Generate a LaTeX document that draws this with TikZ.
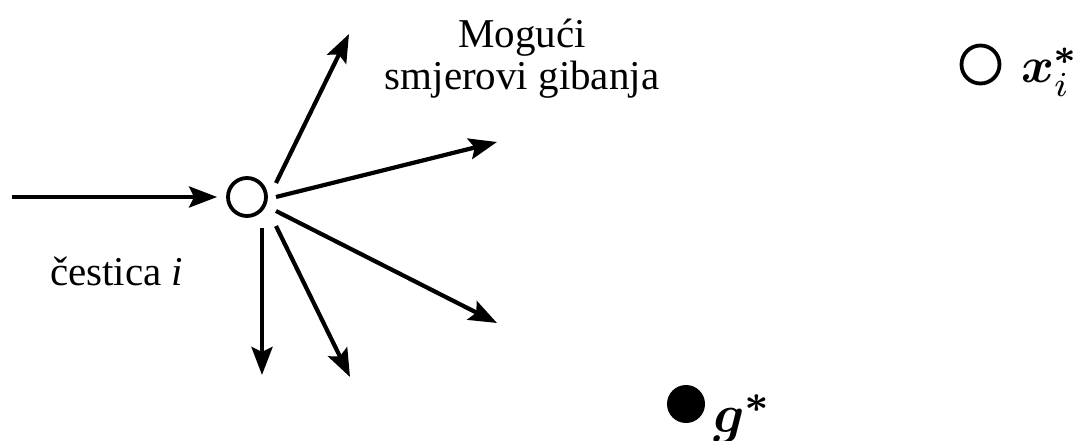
\documentclass[tikz,border=0pt]{standalone}
\usepackage{amsmath}
\usepackage{fontspec}
\setmainfont{Liberation Serif}
\usetikzlibrary{arrows.meta}
\tikzset{
  arr/.style={line width=4.2pt, -{Stealth[length=28pt,width=21pt,inset=5pt]}},
  ring/.style={circle, draw, line width=3.8pt, minimum size=38pt, inner sep=0pt},
  dot/.style={circle, fill, minimum size=38pt, inner sep=0pt},
  lbl/.style={inner sep=0pt, font=\fontsize{41}{42}\selectfont},
  mthx/.style={inner sep=0pt, font=\normalsize, scale=5},
  mthg/.style={inner sep=0pt, font=\normalsize, scale=5.4},
}
\begin{document}
\begin{tikzpicture}[x=1pt,y=-1pt]
\useasboundingbox (0,0) rectangle (1077,441);
% particle
\node[ring] (p) at (247,197) {};
\coordinate (in) at (12,197);
\draw[arr, shorten >=9pt] (in) -- (p.west);
% outgoing directions
\coordinate (s1) at (276,183); \coordinate (e1) at (349,34);
\coordinate (s2) at (276,197); \coordinate (e2) at (497,142);
\coordinate (s3) at (276,211); \coordinate (e3) at (497,323);
\coordinate (s4) at (276,226); \coordinate (e4) at (350,377);
\coordinate (s5) at (262,228); \coordinate (e5) at (262,375);
\draw[arr] (s1) -- (e1);
\draw[arr] (s2) -- (e2);
\draw[arr] (s3) -- (e3);
\draw[arr] (s4) -- (e4);
\draw[arr] (s5) -- (e5);
% labels
\node[lbl, anchor=base] (t1) at (522,48) {Mogući};
\node[lbl, anchor=base] (t2) at (522,90) {smjerovi gibanja};
\node[lbl, anchor=base west] (t3) at (50,285) {čestica \textit{i}};
% personal best
\node[ring] (xb) at (980.5,64.5) {};
\node[mthx, anchor=base west] (xl) at (1020,83) {$\boldsymbol{x}_i^{\boldsymbol{*}}$};
% global best
\node[dot] (g) at (686,404) {};
\node[mthg, anchor=base west] (gl) at (712,432) {$\boldsymbol{g}^{\boldsymbol{*}}$};
\end{tikzpicture}
\end{document}
